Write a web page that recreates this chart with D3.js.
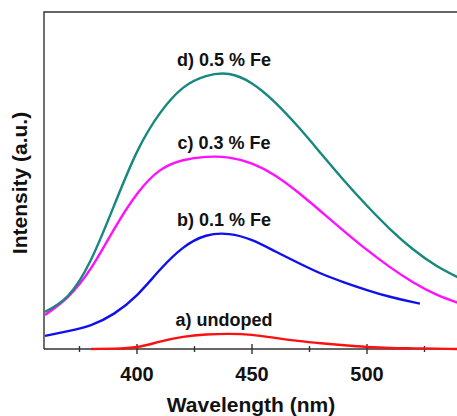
<!DOCTYPE html>
<html>
<head>
<meta charset="utf-8">
<script src="https://cdn.jsdelivr.net/npm/d3@7"></script>
<style>
  body { margin: 0; background: #fff; }
  svg { display: block; font-family: "Liberation Sans", Arial, sans-serif; }
  .tick-label { font-size: 20px; font-weight: bold; fill: #111; }
  .axis-title { font-size: 21px; font-weight: bold; fill: #111; }
  .curve-label { font-size: 18px; font-weight: bold; fill: #111; }
</style>
</head>
<body>
<div id="chart"></div>
<script>
// wavelength grid (nm)
const wavelengths = [360, 370, 380, 390, 400, 410, 420, 430, 440, 450, 460, 470, 480, 490, 500, 510, 520, 530, 540];

// intensities (a.u.)
const fe05 = [11.0, 15.8, 26.5, 42.5, 58.5, 70.0, 77.5, 81.0, 81.6, 78.8, 73.2, 66.0, 58.0, 50.0, 42.5, 35.6, 29.6, 24.8, 21.1];
const fe03 = [10.1, 15.5, 24.0, 35.5, 46.0, 53.0, 56.0, 57.0, 56.8, 55.0, 51.5, 46.5, 40.8, 35.0, 29.4, 24.3, 19.8, 16.2, 13.6];
const fe01 = [3.9, 5.3, 7.1, 10.5, 16.0, 23.5, 30.0, 33.6, 34.1, 32.3, 29.0, 25.6, 22.4, 19.8, 17.5, 15.5, 13.9];
const fe01Tail = [[523, 13.5]];
const undoped = [null, null, 0.0, 0.1, 0.6, 2.2, 3.6, 4.3, 4.5, 4.2, 3.3, 2.4, 1.7, 1.1, 0.6, 0.3, 0.2, 0.1, 0.0];

const seriesNames = ["a) undoped", "b) 0.1 % Fe", "c) 0.3 % Fe", "d) 0.5 % Fe"];
const seriesColors = ["#ff1010", "#1010ee", "#ff10ff", "#16887d"];

const majorTicks = [400, 450, 500];
const minorTicks = [375, 425, 475, 525];

function toPoints(vals) {
    return wavelengths.map((w, i) => [w, vals[i]]).filter(p => p[1] != null);
}

const series = [
    toPoints(undoped),
    toPoints(fe01).concat(fe01Tail),
    toPoints(fe03),
    toPoints(fe05)
];

const width = 457, height = 416;
const plotLeft = 44, plotTop = 12, plotBottom = 349;

const svg = d3.select("#chart").append("svg")
    .attr("width", width)
    .attr("height", height);

const xScale = d3.scaleLinear().domain([360, 540]).range([45, 459]);
const yScale = d3.scaleLinear().domain([0, 100]).range([plotBottom, plotTop]);

// frame: left axis + top edge
svg.append("path")
    .attr("d", `M${width + 5},${plotTop}H${plotLeft}V${plotBottom}`)
    .attr("fill", "none")
    .attr("stroke", "#333")
    .attr("stroke-width", 1.4);

// bottom axis, ticks crossing the line
svg.append("line")
    .attr("x1", plotLeft).attr("x2", width + 5)
    .attr("y1", plotBottom).attr("y2", plotBottom)
    .attr("stroke", "#333").attr("stroke-width", 1.4);

svg.selectAll(".major").data(majorTicks).enter().append("line")
    .attr("x1", d => xScale(d)).attr("x2", d => xScale(d))
    .attr("y1", plotBottom - 5).attr("y2", plotBottom + 5)
    .attr("stroke", "#333").attr("stroke-width", 1.4);

svg.selectAll(".minor").data(minorTicks).enter().append("line")
    .attr("x1", d => xScale(d)).attr("x2", d => xScale(d))
    .attr("y1", plotBottom - 3).attr("y2", plotBottom + 3)
    .attr("stroke", "#333").attr("stroke-width", 1.4);

svg.selectAll(".tick-label").data(majorTicks).enter().append("text")
    .attr("class", "tick-label")
    .attr("x", d => xScale(d))
    .attr("y", 381)
    .attr("text-anchor", "middle")
    .text(d => d);

svg.append("text")
    .attr("class", "axis-title")
    .attr("x", 251).attr("y", 412)
    .attr("text-anchor", "middle")
    .text("Wavelength (nm)");

svg.append("text")
    .attr("class", "axis-title")
    .attr("transform", "translate(27,183) rotate(-90)")
    .attr("text-anchor", "middle")
    .text("Intensity (a.u.)");

const line = d3.line()
    .x(d => xScale(d[0]))
    .y(d => yScale(d[1]))
    .curve(d3.curveNatural);

svg.selectAll(".curve").data(series).enter().append("path")
    .attr("fill", "none")
    .attr("stroke", (d, i) => seriesColors[i])
    .attr("stroke-width", 2.4)
    .attr("d", line);

// labels sit just above each curve's peak
svg.selectAll(".curve-label").data(series).enter().append("text")
    .attr("class", "curve-label")
    .attr("x", 224)
    .attr("y", d => yScale(d3.max(d, p => p[1])) - 8)
    .attr("text-anchor", "middle")
    .text((d, i) => seriesNames[i]);
</script>
</body>
</html>
